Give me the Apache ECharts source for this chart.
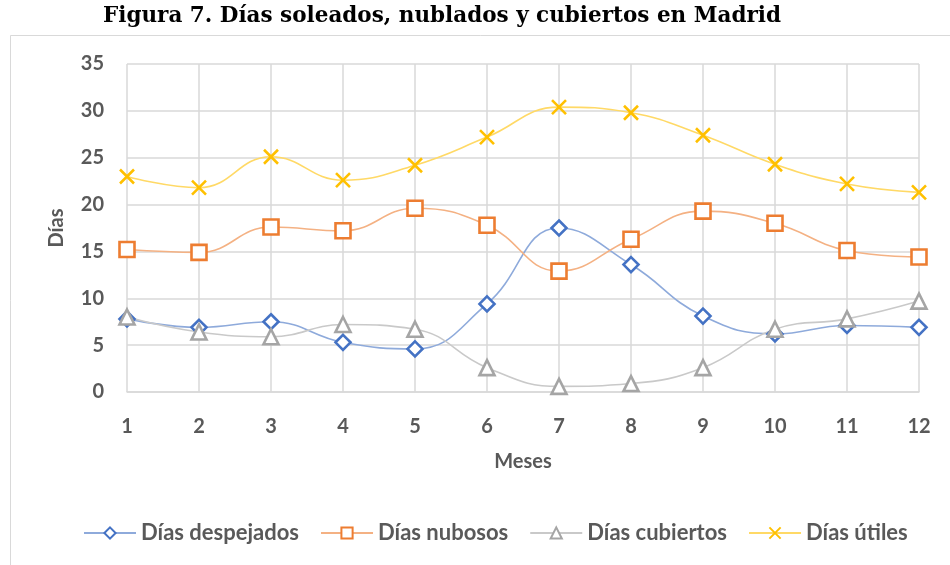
<!DOCTYPE html>
<html>
<head>
<meta charset="utf-8">
<script src="https://cdn.jsdelivr.net/npm/echarts@6/dist/echarts.min.js"></script>
<style>
  html, body { margin: 0; padding: 0; background: #fff; }
  #main { width: 950px; height: 565px; }
</style>
</head>
<body>
<div id="main"></div>
<script>
var meses = ['1', '2', '3', '4', '5', '6', '7', '8', '9', '10', '11', '12'];
var despejados = [7.8, 6.9, 7.5, 5.3, 4.6, 9.4, 17.5, 13.6, 8.1, 6.2, 7.1, 6.9];
var nubosos = [15.2, 14.9, 17.6, 17.2, 19.6, 17.8, 12.9, 16.3, 19.3, 18.0, 15.1, 14.4];
var cubiertos = [8.0, 6.4, 5.9, 7.2, 6.7, 2.6, 0.6, 0.9, 2.6, 6.7, 7.8, 9.7];
var utiles = [23.0, 21.8, 25.1, 22.6, 24.2, 27.2, 30.4, 29.8, 27.4, 24.3, 22.2, 21.3];

var chart = echarts.init(document.getElementById('main'));

var txt = '#595959';
var font = 'Lato';

// serie con marcador hueco
var serie = function (name, data, symbol, size, lineColor, markColor, fill) {
    return {
        name: name,
        type: 'line',
        data: data,
        smooth: 0.45,
        symbol: symbol,
        symbolSize: size,
        showAllSymbol: true,
        lineStyle: { color: lineColor, width: 1.6 },
        itemStyle: { color: fill, borderColor: markColor, borderWidth: 2.6 },
        emphasis: { disabled: true },
        z: 2
    };
};

var option = {
    backgroundColor: '#fff',
    animation: false,
    title: {
        text: 'Figura 7. Días soleados, nublados y cubiertos en Madrid',
        left: 437,
        top: 0,
        textAlign: 'center',
        textStyle: {
            fontFamily: 'DejaVu Serif',
            fontWeight: 'bold',
            fontSize: 21.5,
            color: '#000'
        }
    },
    graphic: [{
        type: 'rect',
        shape: { x: 10.5, y: 35.5, width: 960, height: 560 },
        style: { fill: 'none', stroke: '#d9d9d9', lineWidth: 1 },
        silent: true
    }],
    grid: { left: 127, right: 31, top: 64, bottom: 173 },
    legend: {
        top: 517,
        left: 78,
        itemWidth: 52,
        itemHeight: 14,
        itemGap: 21,
        textStyle: { fontFamily: font, fontWeight: 'bold', fontSize: 22, color: txt },
        data: ['Días despejados', 'Días nubosos', 'Días cubiertos', 'Días útiles']
    },
    xAxis: {
        type: 'category',
        data: meses,
        boundaryGap: false,
        name: 'Meses',
        nameLocation: 'middle',
        nameGap: 60,
        nameTextStyle: { fontFamily: font, fontWeight: 'bold', fontSize: 20, color: txt },
        axisLine: { lineStyle: { color: '#d9d9d9', width: 1.5 } },
        axisTick: { show: false },
        axisLabel: { margin: 25, fontFamily: font, fontWeight: 'bold', fontSize: 20, color: txt },
        splitLine: { show: true, lineStyle: { color: '#d9d9d9', width: 1.5 } }
    },
    yAxis: {
        type: 'value',
        min: 0,
        max: 35,
        interval: 5,
        name: 'Días',
        nameLocation: 'middle',
        nameGap: 60,
        nameTextStyle: { fontFamily: font, fontWeight: 'bold', fontSize: 20, color: txt },
        axisLine: { show: false },
        axisTick: { show: false },
        axisLabel: { margin: 23, fontFamily: font, fontWeight: 'bold', fontSize: 20, color: txt },
        splitLine: { lineStyle: { color: '#d9d9d9', width: 1.5 } }
    },
    series: [
        serie('Días despejados', despejados, 'diamond', 15, '#8eaadb', '#4472c4', '#fff'),
        serie('Días nubosos', nubosos, 'rect', 15, '#f4b183', '#ed7d31', '#fff'),
        serie('Días cubiertos', cubiertos, 'triangle', 15, '#c9c9c9', '#a5a5a5', '#fff'),
        serie('Días útiles', utiles, 'path://M0,0L10,10M10,0L0,10', 14, '#ffd966', '#ffc000', '#ffc000')
    ]
};

chart.setOption(option);
</script>
</body>
</html>
